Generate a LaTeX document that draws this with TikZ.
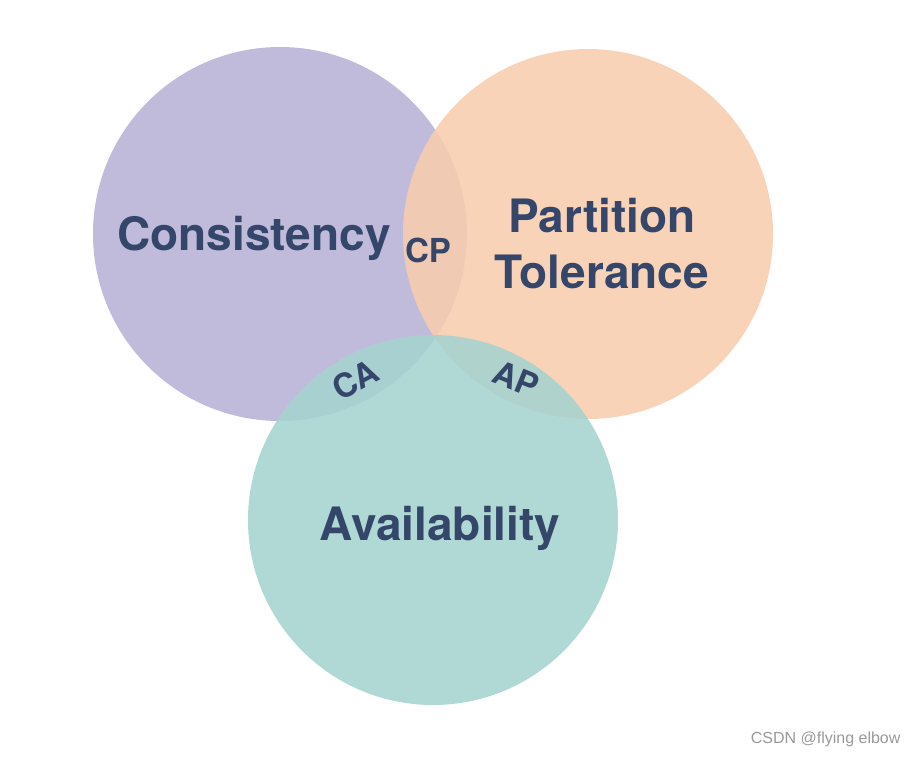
\documentclass[tikz,border=0pt]{standalone}
\usepackage{fontspec}
\setmainfont{TeX Gyre Heros}
\newfontfamily\wmfont{Liberation Sans}
\definecolor{cpurple}{HTML}{C0BBDB}
\definecolor{corange}{HTML}{F8CDAE}
\definecolor{cteal}{HTML}{A6D4D0}
\definecolor{ctext}{HTML}{35466B}
\definecolor{cwm}{HTML}{9A9A9A}
\tikzset{
  biglabel/.style={text=ctext, font=\fontsize{46}{56}\selectfont\bfseries, align=center},
  smalllabel/.style={text=ctext, font=\fontsize{33}{36}\selectfont\bfseries},
}
\begin{document}
\begin{tikzpicture}[x=1pt,y=-1pt]
\useasboundingbox[fill=white] (0,0) rectangle (918,758);
\fill[cpurple] (280,234) circle[radius=187];
\fill[corange, fill opacity=0.88] (588,234) circle[radius=185];
\fill[cteal, fill opacity=0.88] (433,520) circle[radius=185];
\node[biglabel] (tcons) at (254,238) {Consistency};
\node[biglabel] (tpart) at (602,244) {Partition\\Tolerance};
\node[biglabel] (tavail) at (440,528) {Availability};
\node[smalllabel] (tcp) at (428,250) {CP};
\node[smalllabel, rotate=28] (tca) at (355,380) {CA};
\node[smalllabel, rotate=-22] (tap) at (516,379) {AP};
\node[text=cwm, font=\wmfont\fontsize{16}{18}\selectfont, anchor=east] (wm) at (904,739) {CSDN @flying elbow};
\end{tikzpicture}
\end{document}
